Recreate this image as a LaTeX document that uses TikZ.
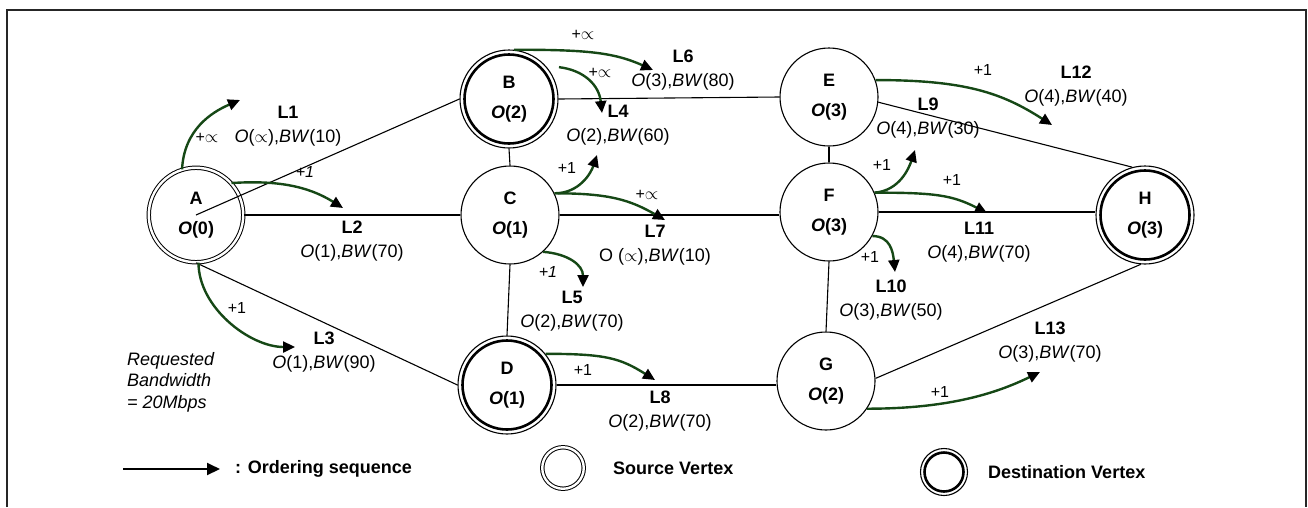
\documentclass[tikz,border=0pt]{standalone}
\usepackage{fontspec}
\setmainfont{Liberation Sans}
\usetikzlibrary{arrows.meta}
\definecolor{seqgreen}{RGB}{22,72,22}
\begin{document}
\begin{tikzpicture}[x=1pt,y=-1pt,
  vtx/.style={circle,draw,line width=1.1,minimum size=98,inner sep=0,align=center,
    font=\fontsize{18}{30}\selectfont\bfseries},
  srcv/.style={vtx,double,double distance=2.4,line width=1.0,minimum size=94.5},
  dstv/.style={vtx,path picture={\draw[line width=2.6] (path picture bounding box.center) circle (44.5);}},
  link/.style={line width=1.1},
  seq/.style={draw=seqgreen,line width=2.4,-{Triangle[length=12,width=11,color=black]}},
  lbl/.style={align=center,inner sep=0,font=\fontsize{18}{24}\selectfont},
  inc/.style={inner sep=0,font=\fontsize{16}{18}\selectfont},
  legtxt/.style={anchor=west,inner sep=0,font=\fontsize{18}{20}\selectfont\bfseries},
]
\useasboundingbox (0,0) rectangle (1308,507);
% frame
\draw[line width=2,black!85] (6.5,507) -- (6.5,9.5) -- (1306,9.5) -- (1306,507);

% vertices
\node[srcv] (A) at (196,215) {A\\\textit{O}(0)};
\node[dstv] (B) at (509,99) {B\\\textit{O}(2)};
\node[vtx]  (C) at (510,215) {C\\\textit{O}(1)};
\node[dstv] (D) at (507,385) {D\\\textit{O}(1)};
\node[vtx]  (E) at (829,97) {E\\\textit{O}(3)};
\node[vtx]  (F) at (829,212) {F\\\textit{O}(3)};
\node[vtx]  (G) at (826,381) {G\\\textit{O}(2)};
\node[dstv] (H) at (1145,215) {H\\\textit{O}(3)};

% links
\draw[link] (A.center) -- (B.west);
\draw[link] (A.east) -- (A.east -| C.west);
\draw[link] (A.south) -- (D.west);
\draw[link] (B.south) -- (C.north);
\draw[link] (B.east) -- (E.west);
\draw[link] (C.south) -- (D.north);
\draw[link] (C.east) -- (C.east -| F.west);
\draw[link] (E.south) -- (F.north);
\draw[link] (E.-6) -- (H.105);
\draw[link] (F.east) -- (F.east -| H.west);
\draw[link] (F.south) -- (G.north);
\draw[link] (D.east) -- (D.east -| G.west);
\draw[link] (G.3) -- (H.-95);

% link labels
\node[lbl] (l1) at (288,126) {\textbf{L1}\\\textit{O}($\propto$),\textit{BW}(10)};
\node[lbl] (l2) at (352,241) {\textbf{L2}\\\textit{O}(1),\textit{BW}(70)};
\node[lbl] (l3) at (324,352) {\textbf{L3}\\\textit{O}(1),\textit{BW}(90)};
\node[lbl] (l4) at (618,125) {\textbf{L4}\\\textit{O}(2),\textit{BW}(60)};
\node[lbl] (l5) at (572,311) {\textbf{L5}\\\textit{O}(2),\textit{BW}(70)};
\node[lbl] (l6) at (683,70) {\textbf{L6}\\\textit{O}(3),\textit{BW}(80)};
\node[lbl] (l7) at (655,245) {\textbf{L7}\\O ($\propto$),\textit{BW}(10)};
\node[lbl] (l8) at (660,411) {\textbf{L8}\\\textit{O}(2),\textit{BW}(70)};
\node[lbl] (l9) at (928,118) {\textbf{L9}\\\textit{O}(4),\textit{BW}(30)};
\node[lbl] (l10) at (891,300) {\textbf{L10}\\\textit{O}(3),\textit{BW}(50)};
\node[lbl] (l11) at (979,242) {\textbf{L11}\\\textit{O}(4),\textit{BW}(70)};
\node[lbl] (l12) at (1076,86) {\textbf{L12}\\\textit{O}(4),\textit{BW}(40)};
\node[lbl] (l13) at (1050,342) {\textbf{L13}\\\textit{O}(3),\textit{BW}(70)};

% ordering sequence ends
\coordinate (s1) at (240,100);
\coordinate (s2) at (343,208);
\coordinate (s3) at (295,347);
\coordinate (s4) at (653,70);
\coordinate (s5) at (602,113);
\coordinate (s6) at (597,155);
\coordinate (s7) at (665,220);
\coordinate (s8) at (583,287);
\coordinate (s9) at (655,380);
\coordinate (s10) at (1052,125);
\coordinate (s11) at (915,150);
\coordinate (s12) at (987,213);
\coordinate (s13) at (895,272);
\coordinate (s14) at (1040,372);

\draw[seq] (A.107) .. controls +(2,-40) and +(-28,12) .. (s1);
\draw[seq] (A.42) .. controls +(45,-3) and +(-35,-22) .. (s2);
\draw[seq] (A.-87) .. controls +(0,45) and +(-45,0) .. (s3);
\draw[seq] (B.84) .. controls +(70,0) and +(-40,-18) .. (s4);
\draw[seq] ([xshift=12]B.40) .. controls +(25,3) and +(-3,-28) .. (s5);
\draw[seq] (C.26) .. controls +(25,0) and +(-6,18) .. (s6);
\draw[seq] (C.26) .. controls +(55,0) and +(-35,-20) .. (s7);
\draw[seq] (C.-48) .. controls +(25,2) and +(0,-22) .. (s8);
\draw[seq] (D.39) .. controls +(60,0) and +(-35,-22) .. (s9);
\draw[seq] (E.20) .. controls +(90,0) and +(-50,-32) .. (s10);
\draw[seq] (F.23) .. controls +(25,-2) and +(-6,18) .. (s11);
\draw[seq] (F.23) .. controls +(60,0) and +(-35,-18) .. (s12);
\draw[seq] (F.-29) .. controls +(18,0) and +(-2,-20) .. (s13);
\draw[seq] (G.-34) .. controls +(80,0) and +(-45,22) .. (s14);

% increments
\node[inc] (p1) at (207,138) {+$\propto$};
\node[inc] (p2) at (305,172) {\textit{+1}};
\node[inc] (p3) at (237,308) {+1};
\node[inc] (p4) at (583,35) {+$\propto$};
\node[inc] (p5) at (600,73) {+$\propto$};
\node[inc] (p6) at (567,168) {+1};
\node[inc] (p7) at (647,195) {+$\propto$};
\node[inc] (p8) at (548,272) {\textit{+1}};
\node[inc] (p9) at (583,370) {+1};
\node[inc] (p10) at (983,70) {+1};
\node[inc] (p11) at (882,165) {+1};
\node[inc] (p12) at (952,180) {+1};
\node[inc] (p13) at (870,257) {+1};
\node[inc] (p14) at (940,392) {+1};

% request
\node[anchor=west,align=left,inner sep=0,font=\fontsize{18}{21.5}\selectfont\itshape] (req) at (127,382)
  {Requested\\Bandwidth\\= 20Mbps};

% legend
\node[legtxt] (lgt) at (235,469) {: Ordering sequence};
\coordinate (lgs) at (123,469);
\draw[line width=2,-{Triangle[length=13,width=12]}] (lgs) -- ([xshift=-15]lgt.west);
\node[circle,draw,double,double distance=2.4,line width=1.0,minimum size=41.5,inner sep=0] (lsrc) at (563,468) {};
\node[legtxt] (lsrct) at (613,468) {Source Vertex};
\node[circle,draw,line width=1.1,minimum size=47,inner sep=0,
  path picture={\draw[line width=2.6] (path picture bounding box.center) circle (19.5);}] (ldst) at (944,472) {};
\node[legtxt] (ldstt) at (988,472) {Destination Vertex};
\end{tikzpicture}
\end{document}
